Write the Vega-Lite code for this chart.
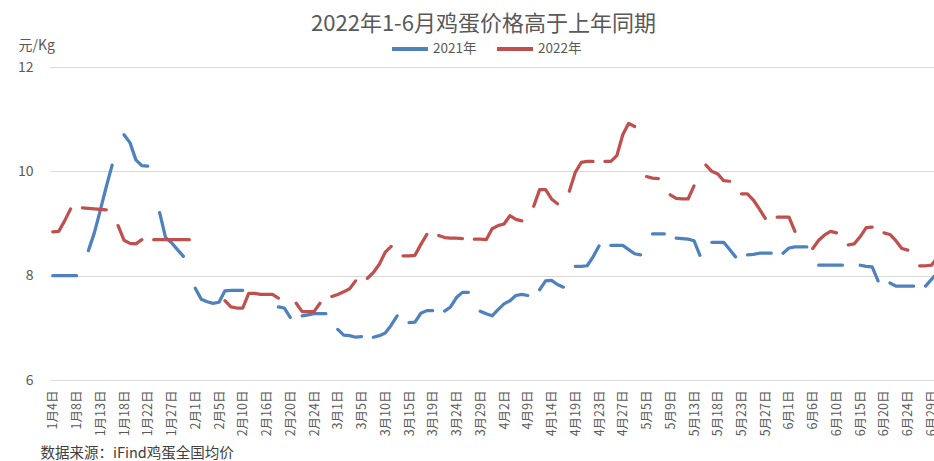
{
  "$schema": "https://vega.github.io/schema/vega-lite/v6.json",
  "autosize": "none",
  "width": 889,
  "height": 313,
  "padding": {"left": 45, "top": 67, "right": 0, "bottom": 81},
  "background": "white",
  "title": {"text": "2022年1-6月鸡蛋价格高于上年同期", "anchor": "middle", "fontSize": 22, "font": "Noto Sans CJK SC", "fontWeight": "normal", "color": "#595959", "offset": -7, "dx": -6},
  "data": {"values": [
    {"date": "1月4日", "2021年": 8.0, "2022年": 8.84},
    {"date": "1月5日", "2021年": 8.0, "2022年": 8.85},
    {"date": "1月6日", "2021年": 8.0, "2022年": 9.05},
    {"date": "1月7日", "2021年": 8.0, "2022年": 9.28},
    {"date": "1月8日", "2021年": 8.0, "2022年": null},
    {"date": "1月10日", "2021年": null, "2022年": 9.3},
    {"date": "1月11日", "2021年": 8.48, "2022年": 9.29},
    {"date": "1月12日", "2021年": 8.82, "2022年": 9.28},
    {"date": "1月13日", "2021年": 9.25, "2022年": 9.27},
    {"date": "1月14日", "2021年": 9.7, "2022年": 9.26},
    {"date": "1月15日", "2021年": 10.12, "2022年": null},
    {"date": "1月17日", "2021年": null, "2022年": 8.96},
    {"date": "1月18日", "2021年": 10.7, "2022年": 8.68},
    {"date": "1月19日", "2021年": 10.55, "2022年": 8.62},
    {"date": "1月20日", "2021年": 10.22, "2022年": 8.61},
    {"date": "1月21日", "2021年": 10.11, "2022年": 8.69},
    {"date": "1月22日", "2021年": 10.1, "2022年": null},
    {"date": "1月24日", "2021年": null, "2022年": 8.69},
    {"date": "1月25日", "2021年": 9.21, "2022年": 8.69},
    {"date": "1月26日", "2021年": 8.73, "2022年": 8.69},
    {"date": "1月27日", "2021年": 8.63, "2022年": 8.69},
    {"date": "1月28日", "2021年": 8.5, "2022年": 8.69},
    {"date": "1月29日", "2021年": 8.37, "2022年": 8.69},
    {"date": "1月30日", "2021年": null, "2022年": 8.69},
    {"date": "2月1日", "2021年": 7.76, "2022年": null},
    {"date": "2月2日", "2021年": 7.55, "2022年": null},
    {"date": "2月3日", "2021年": 7.5, "2022年": null},
    {"date": "2月4日", "2021年": 7.47, "2022年": null},
    {"date": "2月5日", "2021年": 7.49, "2022年": null},
    {"date": "2月7日", "2021年": 7.71, "2022年": 7.52},
    {"date": "2月8日", "2021年": 7.72, "2022年": 7.4},
    {"date": "2月9日", "2021年": 7.72, "2022年": 7.38},
    {"date": "2月10日", "2021年": 7.72, "2022年": 7.38},
    {"date": "2月11日", "2021年": null, "2022年": 7.66},
    {"date": "2月14日", "2021年": null, "2022年": 7.66},
    {"date": "2月15日", "2021年": null, "2022年": 7.64},
    {"date": "2月16日", "2021年": null, "2022年": 7.64},
    {"date": "2月17日", "2021年": null, "2022年": 7.64},
    {"date": "2月18日", "2021年": 7.4, "2022年": 7.57},
    {"date": "2月19日", "2021年": 7.38, "2022年": null},
    {"date": "2月20日", "2021年": 7.2, "2022年": null},
    {"date": "2月21日", "2021年": null, "2022年": 7.47},
    {"date": "2月22日", "2021年": 7.23, "2022年": 7.31},
    {"date": "2月23日", "2021年": 7.25, "2022年": 7.31},
    {"date": "2月24日", "2021年": 7.27, "2022年": 7.31},
    {"date": "2月25日", "2021年": 7.27, "2022年": 7.47},
    {"date": "2月26日", "2021年": 7.27, "2022年": null},
    {"date": "2月28日", "2021年": null, "2022年": 7.6},
    {"date": "3月1日", "2021年": 6.97, "2022年": 7.64},
    {"date": "3月2日", "2021年": 6.86, "2022年": 7.69},
    {"date": "3月3日", "2021年": 6.85, "2022年": 7.75},
    {"date": "3月4日", "2021年": 6.82, "2022年": 7.9},
    {"date": "3月5日", "2021年": 6.83, "2022年": null},
    {"date": "3月7日", "2021年": null, "2022年": 7.95},
    {"date": "3月8日", "2021年": 6.82, "2022年": 8.06},
    {"date": "3月9日", "2021年": 6.85, "2022年": 8.22},
    {"date": "3月10日", "2021年": 6.9, "2022年": 8.45},
    {"date": "3月11日", "2021年": 7.05, "2022年": 8.56},
    {"date": "3月12日", "2021年": 7.23, "2022年": null},
    {"date": "3月14日", "2021年": null, "2022年": 8.38},
    {"date": "3月15日", "2021年": 7.1, "2022年": 8.38},
    {"date": "3月16日", "2021年": 7.11, "2022年": 8.39},
    {"date": "3月17日", "2021年": 7.28, "2022年": 8.6},
    {"date": "3月18日", "2021年": 7.33, "2022年": 8.79},
    {"date": "3月19日", "2021年": 7.33, "2022年": null},
    {"date": "3月21日", "2021年": null, "2022年": 8.77},
    {"date": "3月22日", "2021年": 7.32, "2022年": 8.73},
    {"date": "3月23日", "2021年": 7.4, "2022年": 8.72},
    {"date": "3月24日", "2021年": 7.58, "2022年": 8.72},
    {"date": "3月25日", "2021年": 7.68, "2022年": 8.71},
    {"date": "3月26日", "2021年": 7.68, "2022年": null},
    {"date": "3月28日", "2021年": null, "2022年": 8.7},
    {"date": "3月29日", "2021年": 7.32, "2022年": 8.7},
    {"date": "3月30日", "2021年": 7.27, "2022年": 8.69},
    {"date": "3月31日", "2021年": 7.23, "2022年": 8.9},
    {"date": "4月1日", "2021年": 7.35, "2022年": 8.96},
    {"date": "4月2日", "2021年": 7.46, "2022年": 8.99},
    {"date": "4月6日", "2021年": 7.52, "2022年": 9.15},
    {"date": "4月7日", "2021年": 7.62, "2022年": 9.08},
    {"date": "4月8日", "2021年": 7.64, "2022年": 9.05},
    {"date": "4月9日", "2021年": 7.62, "2022年": null},
    {"date": "4月11日", "2021年": null, "2022年": 9.33},
    {"date": "4月12日", "2021年": 7.73, "2022年": 9.65},
    {"date": "4月13日", "2021年": 7.9, "2022年": 9.65},
    {"date": "4月14日", "2021年": 7.91, "2022年": 9.47},
    {"date": "4月15日", "2021年": 7.83, "2022年": 9.38},
    {"date": "4月16日", "2021年": 7.78, "2022年": null},
    {"date": "4月18日", "2021年": null, "2022年": 9.62},
    {"date": "4月19日", "2021年": 8.18, "2022年": 9.98},
    {"date": "4月20日", "2021年": 8.18, "2022年": 10.17},
    {"date": "4月21日", "2021年": 8.19, "2022年": 10.19},
    {"date": "4月22日", "2021年": 8.36, "2022年": 10.19},
    {"date": "4月23日", "2021年": 8.57, "2022年": null},
    {"date": "4月24日", "2021年": null, "2022年": 10.19},
    {"date": "4月25日", "2021年": 8.58, "2022年": 10.19},
    {"date": "4月26日", "2021年": 8.58, "2022年": 10.3},
    {"date": "4月27日", "2021年": 8.58, "2022年": 10.7},
    {"date": "4月28日", "2021年": 8.5, "2022年": 10.92},
    {"date": "4月29日", "2021年": 8.42, "2022年": 10.86},
    {"date": "4月30日", "2021年": 8.4, "2022年": null},
    {"date": "5月5日", "2021年": null, "2022年": 9.9},
    {"date": "5月6日", "2021年": 8.8, "2022年": 9.87},
    {"date": "5月7日", "2021年": 8.8, "2022年": 9.86},
    {"date": "5月8日", "2021年": 8.8, "2022年": null},
    {"date": "5月9日", "2021年": null, "2022年": 9.55},
    {"date": "5月10日", "2021年": 8.72, "2022年": 9.48},
    {"date": "5月11日", "2021年": 8.71, "2022年": 9.47},
    {"date": "5月12日", "2021年": 8.7, "2022年": 9.47},
    {"date": "5月13日", "2021年": 8.67, "2022年": 9.72},
    {"date": "5月14日", "2021年": 8.39, "2022年": null},
    {"date": "5月16日", "2021年": null, "2022年": 10.12},
    {"date": "5月17日", "2021年": 8.64, "2022年": 10.0},
    {"date": "5月18日", "2021年": 8.64, "2022年": 9.95},
    {"date": "5月19日", "2021年": 8.64, "2022年": 9.82},
    {"date": "5月20日", "2021年": 8.5, "2022年": 9.81},
    {"date": "5月21日", "2021年": 8.36, "2022年": null},
    {"date": "5月23日", "2021年": null, "2022年": 9.57},
    {"date": "5月24日", "2021年": 8.4, "2022年": 9.57},
    {"date": "5月25日", "2021年": 8.41, "2022年": 9.45},
    {"date": "5月26日", "2021年": 8.43, "2022年": 9.28},
    {"date": "5月27日", "2021年": 8.43, "2022年": 9.1},
    {"date": "5月28日", "2021年": 8.43, "2022年": null},
    {"date": "5月30日", "2021年": null, "2022年": 9.12},
    {"date": "5月31日", "2021年": 8.43, "2022年": 9.12},
    {"date": "6月1日", "2021年": 8.53, "2022年": 9.12},
    {"date": "6月2日", "2021年": 8.55, "2022年": 8.85},
    {"date": "6月3日", "2021年": 8.55, "2022年": null},
    {"date": "6月4日", "2021年": 8.55, "2022年": null},
    {"date": "6月6日", "2021年": null, "2022年": 8.52},
    {"date": "6月7日", "2021年": 8.2, "2022年": 8.68},
    {"date": "6月8日", "2021年": 8.2, "2022年": 8.78},
    {"date": "6月9日", "2021年": 8.2, "2022年": 8.85},
    {"date": "6月10日", "2021年": 8.2, "2022年": 8.82},
    {"date": "6月11日", "2021年": 8.2, "2022年": null},
    {"date": "6月13日", "2021年": null, "2022年": 8.59},
    {"date": "6月14日", "2021年": null, "2022年": 8.61},
    {"date": "6月15日", "2021年": 8.2, "2022年": 8.75},
    {"date": "6月16日", "2021年": 8.18, "2022年": 8.92},
    {"date": "6月17日", "2021年": 8.17, "2022年": 8.93},
    {"date": "6月18日", "2021年": 7.9, "2022年": null},
    {"date": "6月20日", "2021年": null, "2022年": 8.82},
    {"date": "6月21日", "2021年": 7.86, "2022年": 8.79},
    {"date": "6月22日", "2021年": 7.8, "2022年": 8.67},
    {"date": "6月23日", "2021年": 7.8, "2022年": 8.52},
    {"date": "6月24日", "2021年": 7.8, "2022年": 8.49},
    {"date": "6月25日", "2021年": 7.8, "2022年": null},
    {"date": "6月27日", "2021年": null, "2022年": 8.19},
    {"date": "6月28日", "2021年": 7.8, "2022年": 8.19},
    {"date": "6月29日", "2021年": 7.93, "2022年": 8.2},
    {"date": "6月30日", "2021年": 8.05, "2022年": 8.35}
  ]},
  "transform": [{"fold": ["2021年", "2022年"], "as": ["series", "price"]}],
  "mark": {"type": "line", "strokeWidth": 3.25, "strokeCap": "round", "strokeJoin": "round", "invalid": "break-paths-filter-domains"},
  "encoding": {
    "x": {
      "field": "date", "type": "ordinal", "sort": null,
      "scale": {"type": "point", "range": [4.8, 895.4]},
      "axis": {
        "values": ["1月4日","1月8日","1月13日","1月18日","1月22日","1月27日","2月1日","2月5日","2月10日","2月16日","2月20日","2月24日","3月1日","3月5日","3月10日","3月15日","3月19日","3月24日","3月29日","4月2日","4月9日","4月14日","4月19日","4月23日","4月27日","5月5日","5月9日","5月13日","5月18日","5月23日","5月27日","6月1日","6月6日","6月10日","6月15日","6月20日","6月24日","6月29日"],
        "labelAngle": 270, "labelFontSize": 12.5, "labelColor": "#595959", "labelPadding": 10, "labelOverlap": false, "labelFont": "Noto Sans CJK SC",
        "ticks": false, "domain": true, "domainColor": "#d9d9d9", "domainWidth": 1, "grid": false,
        "title": "数据来源：iFind鸡蛋全国均价", "titleX": -5, "titleY": 73, "titleAlign": "left", "titleBaseline": "middle", "titleAnchor": "start",
        "titleFontSize": 14.5, "titleFontWeight": "normal", "titleColor": "#404040", "titleFont": "Noto Sans CJK SC"
      }
    },
    "y": {
      "field": "price", "type": "quantitative",
      "scale": {"domain": [6, 12], "nice": false, "zero": false},
      "axis": {
        "values": [6, 8, 10, 12], "grid": true, "gridColor": "#d9d9d9", "gridWidth": 1, "domain": false, "ticks": false,
        "labelFontSize": 14, "labelColor": "#595959", "labelPadding": 12, "labelFont": "Noto Sans CJK SC",
        "title": "元/Kg", "titleAngle": 0, "titleX": -27, "titleY": -22, "titleAlign": "left", "titleBaseline": "middle",
        "titleFontSize": 14, "titleFontWeight": "normal", "titleColor": "#595959", "titleFont": "Noto Sans CJK SC"
      }
    },
    "color": {
      "field": "series", "type": "nominal",
      "scale": {"domain": ["2021年", "2022年"], "range": ["#4F81BD", "#C0504D"]},
      "legend": {
        "orient": "none", "legendX": 345, "legendY": -38, "direction": "horizontal", "title": null,
        "symbolType": "stroke", "symbolSize": 1296, "symbolStrokeWidth": 4,
        "labelFontSize": 13.5, "labelColor": "#595959", "labelFont": "Noto Sans CJK SC",
        "columnPadding": 12, "labelOffset": 3, "padding": 0
      }
    }
  },
  "config": {"view": {"stroke": null}, "font": "Noto Sans CJK SC"}
}
